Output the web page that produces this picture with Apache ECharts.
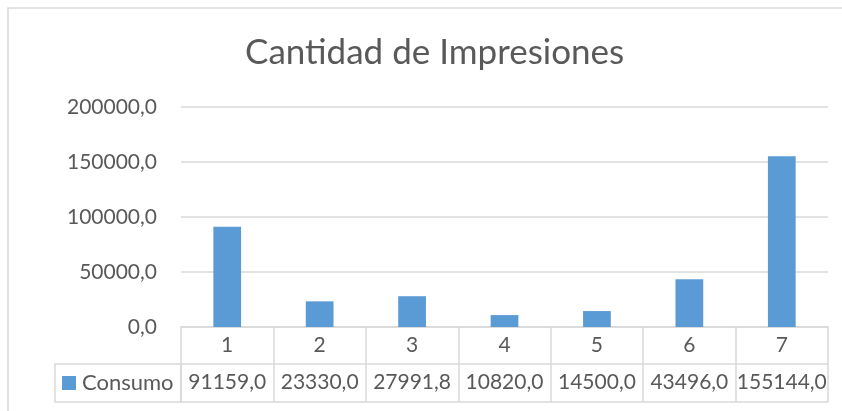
<!DOCTYPE html>
<html>
<head>
<meta charset="utf-8">
<script src="https://cdn.jsdelivr.net/npm/echarts@6/dist/echarts.min.js"></script>
<style>
  html, body { margin: 0; padding: 0; background: #fff; }
  #chart { width: 842px; height: 411px; }
</style>
</head>
<body>
<div id="chart"></div>
<script>
// values
var categories = ["1", "2", "3", "4", "5", "6", "7"];
var consumo = [91159.0, 23330.0, 27991.8, 10820.0, 14500.0, 43496.0, 155144.0];
var seriesName = "Consumo";
var titleText = "Cantidad de Impresiones";

var FONT = "Lato";
var TXT = "#595959";
var LINE = "#D9D9D9";
var BLUE = "#5B9BD5";

function fmt(v) {
  return Number(v).toFixed(1).replace(".", ",");
}

var chart = echarts.init(document.getElementById("chart"));
chart.setOption({
  animation: false,
  textStyle: { fontFamily: FONT },
  title: {
    text: titleText,
    left: 245,
    top: 35,
    padding: 0,
    textStyle: { fontFamily: FONT, fontSize: 35, fontWeight: "normal", color: TXT }
  },
  legend: {
    data: [seriesName],
    left: 62,
    top: 372,
    padding: 0,
    icon: "rect",
    itemWidth: 14,
    itemHeight: 14,
    itemGap: 0,
    textStyle: { fontFamily: FONT, fontSize: 22, color: TXT, padding: [0, 0, 0, 1] }
  },
  grid: { left: 181, right: 14, top: 107, bottom: 84, containLabel: false },
  xAxis: [
    {
      type: "category",
      data: categories,
      axisLine: { show: true, lineStyle: { color: LINE, width: 1.5 } },
      axisTick: { show: true, length: 75, lineStyle: { color: LINE, width: 1.5 } },
      axisLabel: { margin: 8, fontFamily: FONT, fontSize: 21, color: TXT }
    },
    {
      type: "category",
      data: consumo.map(fmt),
      position: "bottom",
      offset: 37,
      axisLine: { show: true, lineStyle: { color: LINE, width: 1.5 } },
      axisTick: { show: false },
      axisLabel: { margin: 8, fontFamily: FONT, fontSize: 21, color: TXT, interval: 0 }
    },
    {
      type: "category",
      data: categories,
      position: "bottom",
      offset: 75,
      axisLine: { show: true, lineStyle: { color: LINE, width: 1.5 } },
      axisTick: { show: false },
      axisLabel: { show: false }
    }
  ],
  yAxis: {
    type: "value",
    min: 0,
    max: 200000,
    interval: 50000,
    axisLine: { show: false },
    axisTick: { show: false },
    splitLine: { lineStyle: { color: LINE, width: 1.5 } },
    axisLabel: { margin: 24, fontFamily: FONT, fontSize: 21, color: TXT, formatter: fmt }
  },
  series: [
    {
      name: seriesName,
      type: "bar",
      data: consumo,
      barWidth: "30%",
      itemStyle: { color: BLUE }
    }
  ],
  graphic: [
    // chart area border (only top and left are inside the picture)
    {
      type: "rect",
      shape: { x: 8, y: 8, width: 900, height: 500 },
      style: { fill: "none", stroke: LINE, lineWidth: 1.5 },
      silent: true
    },
    // legend cell of the data table
    {
      type: "rect",
      shape: { x: 55, y: 364, width: 126, height: 38 },
      style: { fill: "none", stroke: LINE, lineWidth: 1.5 },
      silent: true
    }
  ]
});
</script>
</body>
</html>
